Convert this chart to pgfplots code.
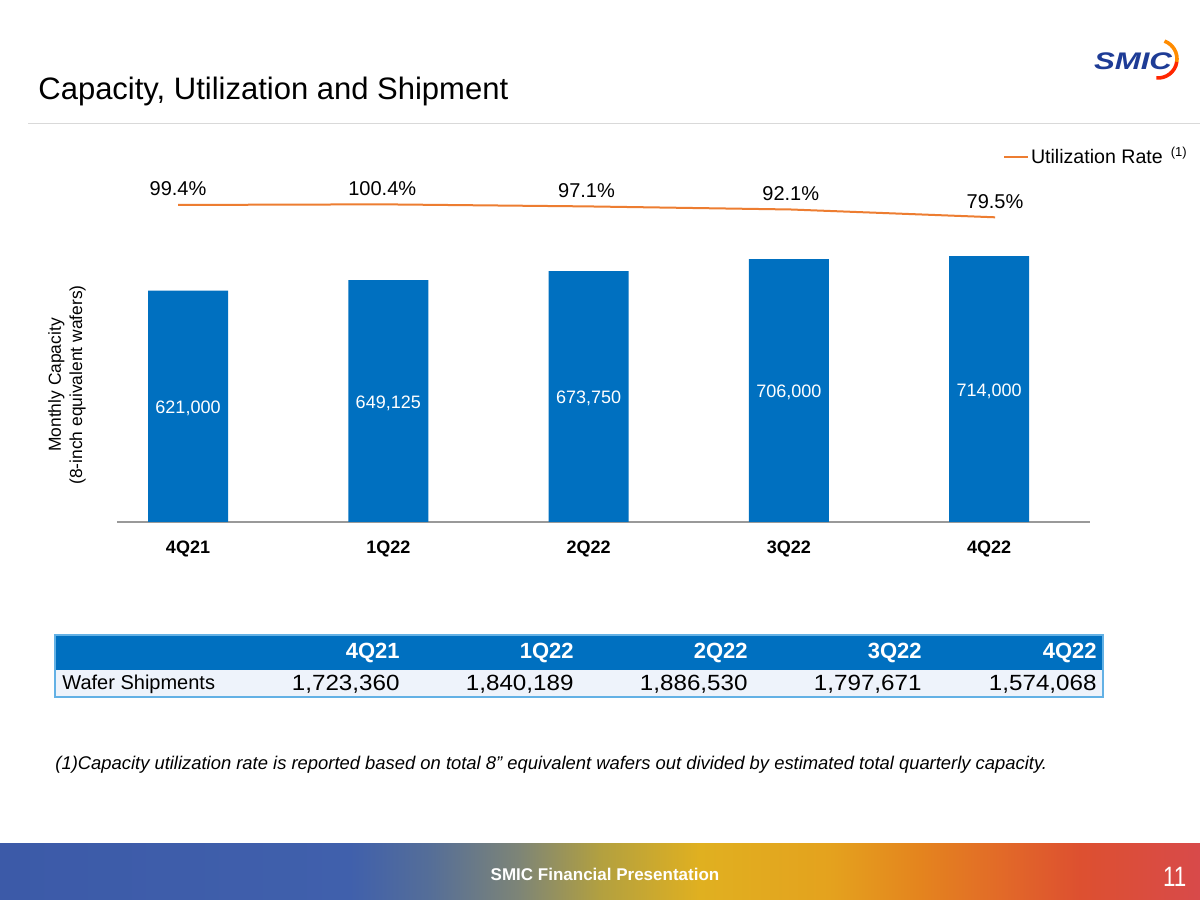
\documentclass[border=0pt]{standalone}
\usepackage{pgfplots}
\pgfplotsset{compat=1.18}
\usepackage{fontspec}
\setmainfont{Liberation Sans}
\definecolor{barblue}{HTML}{0070C0}
\definecolor{lineorange}{HTML}{ED7D31}
\definecolor{logoblue}{HTML}{1E3C96}
\definecolor{tblborder}{HTML}{63B1E5}
\definecolor{tblrow}{HTML}{EEF3FB}
\definecolor{f0}{HTML}{3C5AA8}
\definecolor{f1}{HTML}{4060AC}
\definecolor{f2}{HTML}{556E98}
\definecolor{f3}{HTML}{7E8576}
\definecolor{f4}{HTML}{B2A040}
\definecolor{f5}{HTML}{E0B020}
\definecolor{f6}{HTML}{E4A21E}
\definecolor{f7}{HTML}{E4841E}
\definecolor{f8}{HTML}{E26A28}
\definecolor{f9}{HTML}{DD5030}
\definecolor{f10}{HTML}{D84A4A}
\begin{document}
\begin{tikzpicture}[x=0.5pt,y=0.5pt]
\path[use as bounding box, fill=white] (0,0) rectangle (1200,900);
\coordinate (barorigin) at (117,378);
\coordinate (lineorigin) at (117,633.4);
% footer band
\shade[left color=f0, right color=f1] (0,0) rectangle (350,56);
\shade[left color=f1, right color=f2] (349.5,0) rectangle (430,56);
\shade[left color=f2, right color=f3] (429.5,0) rectangle (520,56);
\shade[left color=f3, right color=f4] (519.5,0) rectangle (600,56);
\shade[left color=f4, right color=f5] (599.5,0) rectangle (700,56);
\shade[left color=f5, right color=f6] (699.5,0) rectangle (830,56);
\shade[left color=f6, right color=f7] (829.5,0) rectangle (920,56);
\shade[left color=f7, right color=f8] (919.5,0) rectangle (1000,56);
\shade[left color=f8, right color=f9] (999.5,0) rectangle (1080,56);
\shade[left color=f9, right color=f10] (1079.5,0) rectangle (1200,56);
\node[text=white, font=\bfseries\fontsize{8.5pt}{10pt}\selectfont] at (605,26) {SMIC Financial Presentation};
\node[text=white, anchor=east, xscale=0.8, font=\fontsize{14pt}{16pt}\selectfont] at (1192,23) {11};
% title
\node[anchor=base west, inner sep=0pt, font=\fontsize{15.5pt}{18pt}\selectfont] at (38,800) {Capacity, Utilization and Shipment};
\draw[black!15, line width=0.5pt] (28,776) -- (1200,776);
% logo
\draw[color=orange!90!yellow, line width=1.8pt] (1158,841) ++(70:19) arc (70:-10:19);
\draw[color=red!70!orange, line width=1.8pt] (1158,841) ++(-9:19) arc (-9:-95:19);
\node[text=logoblue, xscale=1.3, font=\bfseries\itshape\fontsize{12pt}{14pt}\selectfont] at (1133,839) {SMIC};
% y label
\node[rotate=90, align=center, font=\fontsize{8.7pt}{10.5pt}\selectfont] at (67,515) {Monthly Capacity\\(8-inch equivalent wafers)};
% bars
\begin{axis}[at={(barorigin)}, anchor=south west, scale only axis,
  width=486.5pt, height=186.25pt,
  xmin=-0.3546, xmax=4.504, ymin=0, ymax=1000000,
  axis x line*=bottom, axis y line=none,
  x axis line style={-, draw=black!40, line width=0.6pt},
  xtick={0,1,2,3,4}, xticklabels={4Q21,1Q22,2Q22,3Q22,4Q22},
  major tick length=0pt,
  xticklabel style={font=\bfseries\fontsize{9pt}{11pt}\selectfont, yshift=-6pt},
  /pgf/number format/assume math mode=true,
  clip=false]
\addplot[ybar, bar width=40pt, fill=barblue, draw=none,
  nodes near coords,
  point meta=y,
  nodes near coords={\pgfmathprintnumber[fixed,1000 sep={,},precision=0]{\pgfplotspointmeta}},
  visualization depends on={y \as \rawy},
  every node near coord/.style={anchor=center, text=white,
    font=\fontsize{9pt}{11pt}\selectfont,
    shift={(axis direction cs:0,-\rawy/2)}, yshift=-1pt}]
coordinates {(0,621000) (1,649125) (2,673750) (3,706000) (4,714000)};
\end{axis}
% utilization line
\begin{axis}[at={(lineorigin)}, anchor=south west, scale only axis,
  width=486.5pt, height=62pt,
  xmin=-0.2987, xmax=4.465, ymin=0, ymax=200,
  hide axis, clip=false,
  legend style={at={(0.9106,0.884)}, anchor=west, draw=none, fill=none,
    inner sep=0pt, outer sep=0pt,
    font=\fontsize{9.8pt}{12pt}\selectfont,
    nodes={inner sep=1pt},
    /tikz/every even column/.style={column sep=0pt}},
  legend image code/.code={\draw[#1] (0pt,0pt) -- (12pt,0pt);}]
\addplot[lineorange, line width=1pt, mark=none,
  nodes near coords, point meta=explicit symbolic,
  every node near coord/.style={anchor=center, yshift=8pt, text=black,
    font=\fontsize{10pt}{12pt}\selectfont}]
coordinates {(0,99.4)[99.4\%] (1,100.4)[100.4\%] (2,97.1)[97.1\%] (3,92.1)[92.1\%] (4,79.5)[79.5\%]};
\addlegendentry{Utilization Rate\hspace{4pt}\raisebox{0.7ex}{\fontsize{6.5pt}{7pt}\selectfont(1)}}
\end{axis}
% table
\fill[barblue] (55,230) rectangle (1103,265);
\fill[tblrow] (55,203) rectangle (1103,230);
\draw[tblborder, line width=0.7pt] (55,203) rectangle (1103,265);
\foreach \x/\h/\v in {400/4Q21/{1,723,360}, 574/1Q22/{1,840,189}, 748/2Q22/{1,886,530}, 922/3Q22/{1,797,671}, 1097/4Q22/{1,574,068}} {
  \node[anchor=east, inner sep=0pt, text=white, font=\bfseries\fontsize{11pt}{13pt}\selectfont] at (\x,247) {\h};
  \node[anchor=east, inner sep=0pt, xscale=1.1, font=\fontsize{11pt}{13pt}\selectfont] at (\x,216) {\v};
}
\node[anchor=west, inner sep=0pt, font=\fontsize{10pt}{12pt}\selectfont] at (62,216) {Wafer Shipments};
% footnote
\node[anchor=west, inner sep=0pt, font=\itshape\fontsize{9.2pt}{11pt}\selectfont] at (55,135) {(1)Capacity utilization rate is reported based on total 8” equivalent wafers out divided by estimated total quarterly capacity.};
\end{tikzpicture}
\end{document}
